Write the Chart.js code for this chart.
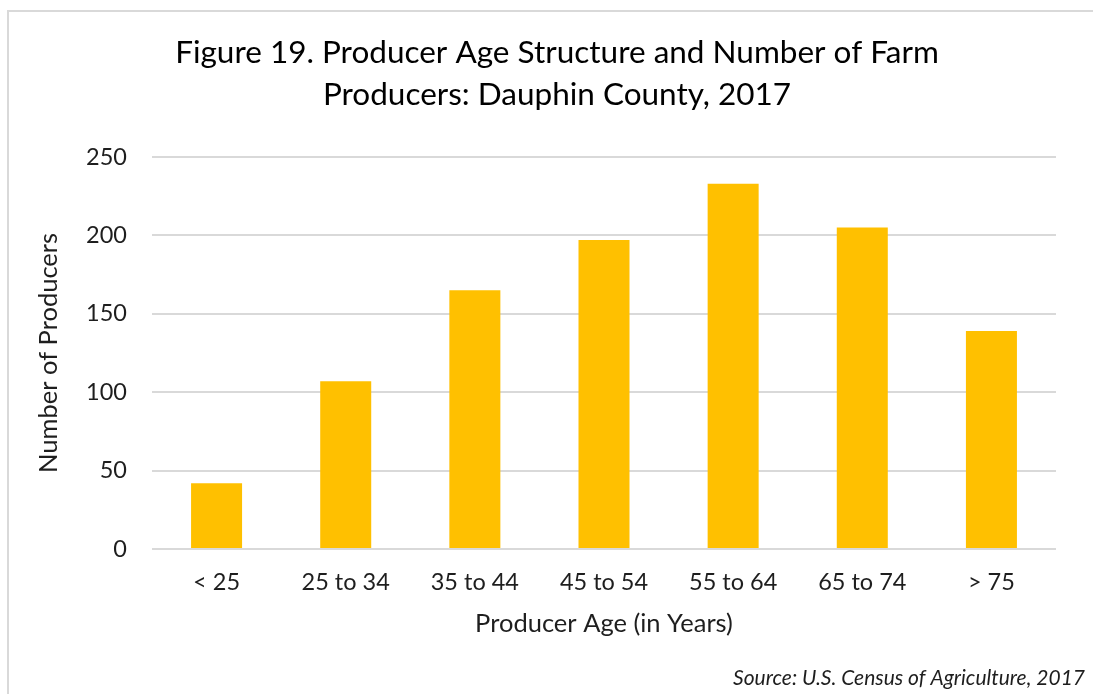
<!DOCTYPE html>
<html>
<head>
<meta charset="utf-8">
<script src="https://cdn.jsdelivr.net/npm/chart.js@4.4.1/dist/chart.umd.min.js"></script>
<style>
  html, body { margin: 0; padding: 0; background: #fff; }
  .wrap { position: relative; width: 1093px; height: 694px; }
  .frame {
    position: absolute; left: 7px; top: 10px; right: 0; bottom: 0;
    border-top: 2px solid #d9d9d9; border-left: 2px solid #d9d9d9;
    pointer-events: none;
  }
</style>
</head>
<body>
<div class="wrap">
  <canvas id="chart" width="1093" height="694"></canvas>
  <div class="frame"></div>
</div>
<script>
// data
const ageGroups = ["< 25", "25 to 34", "35 to 44", "45 to 54", "55 to 64", "65 to 74", "> 75"];
const producers = [42, 107, 165, 197, 233, 205, 139];
const yTicks = [0, 50, 100, 150, 200, 250];

const titleLines = ["Figure 19. Producer Age Structure and Number of Farm", "Producers: Dauphin County, 2017"];
const sourceText = "Source: U.S. Census of Agriculture, 2017";

const FONT = "Lato, 'Open Sans', sans-serif";
const TEXT = "#1e1e1e";

const ctx = document.getElementById("chart").getContext("2d");

new Chart(ctx, {
  type: "bar",
  data: {
    labels: ageGroups,
    datasets: [{
      label: "Number of Producers",
      data: producers,
      backgroundColor: "#FFC000",
      borderWidth: 0,
      categoryPercentage: 1,
      barPercentage: 0.395
    }]
  },
  options: {
    responsive: false,
    animation: false,
    layout: { padding: { left: 29, right: 8, top: 0, bottom: 0 } },
    plugins: {
      legend: { display: false },
      tooltip: { enabled: false },
      title: {
        display: true,
        text: titleLines,
        color: "#000",
        font: { family: FONT, size: 31.5, weight: "normal", lineHeight: 1.333 },
        padding: { top: 32, bottom: 41 }
      },
      subtitle: {
        display: true,
        position: "bottom",
        align: "end",
        text: sourceText,
        color: TEXT,
        font: { family: FONT, size: 21, style: "italic", weight: "normal", lineHeight: 1.2 },
        padding: { top: 6, bottom: 3.4 }
      }
    },
    scales: {
      x: {
        grid: { display: false, drawTicks: false },
        border: { display: false },
        ticks: { color: TEXT, font: { family: FONT, size: 23.5 }, padding: 19 },
        title: {
          display: true,
          text: "Producer Age (in Years)",
          color: TEXT,
          font: { family: FONT, size: 25.5, lineHeight: 1.2 },
          padding: { top: 4, bottom: 20.7 }
        },
        afterFit: (s) => { s.height = 110.4; }
      },
      y: {
        min: 0,
        max: 250,
        afterBuildTicks: (s) => { s.ticks = yTicks.map(v => ({ value: v })); },
        grid: { color: "#d9d9d9", lineWidth: 2, drawTicks: false },
        border: { display: false },
        ticks: { color: TEXT, font: { family: FONT, size: 23.5 }, padding: 25 },
        title: {
          display: true,
          text: "Number of Producers",
          color: TEXT,
          font: { family: FONT, size: 25.5, lineHeight: 1.2 },
          padding: { top: 4, bottom: 4 }
        },
        afterFit: (s) => { s.width = 123; }
      },
      // empty right axis only to keep the plot's right edge off the source line
      y2: {
        position: "right",
        display: true,
        grid: { display: false, drawTicks: false },
        border: { display: false },
        ticks: { display: false },
        afterFit: (s) => { s.width = 29; }
      }
    }
  }
});
</script>
</body>
</html>
